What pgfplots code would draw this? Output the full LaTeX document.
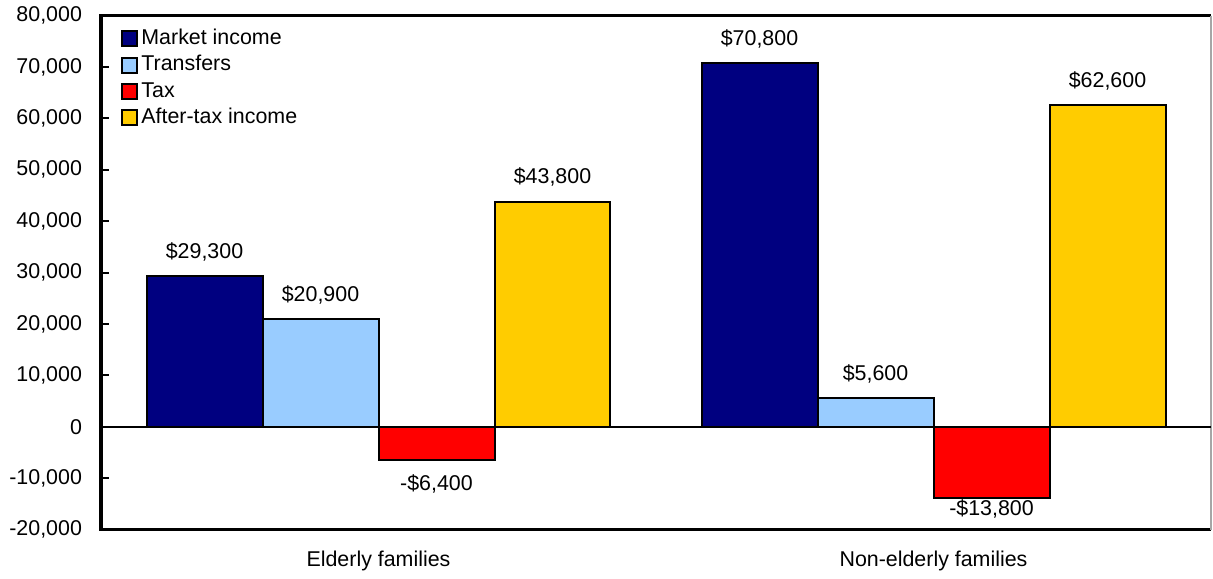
\documentclass[border=0pt]{standalone}
\usepackage{pgfplots}
\pgfplotsset{compat=1.18}
\usepackage{fontspec}
\setmainfont{Liberation Sans}
\definecolor{cMarket}{HTML}{000080}
\definecolor{cTrans}{HTML}{99CCFF}
\definecolor{cTax}{HTML}{FF0000}
\definecolor{cAfter}{HTML}{FFCC00}
\begin{document}
\begin{tikzpicture}
\newcommand{\fs}{\fontsize{10.7}{12.8}\selectfont}
\begin{axis}[
  scale only axis,
  width=555pt, height=257pt,
  xmin=-0.5, xmax=1.5,
  ymin=-20000, ymax=80000,
  ybar=0pt, bar width=0.209,
  axis line style={draw=none},
  xtick={0,1},
  xticklabels={Elderly families, Non-elderly families},
  x tick style={draw=none},
  extra x ticks={0.5},
  extra x tick labels={},
  extra x tick style={major tick length=4pt, tick style={draw=black, line width=1pt}},
  ytick={-20000,-10000,0,10000,20000,30000,40000,50000,60000,70000,80000},
  scaled y ticks=false,
  /pgf/number format/1000 sep={,},
  /pgf/number format/assume math mode=true,
  yticklabel style={xshift=-6pt},
  xticklabel style={yshift=-7pt},
  tick label style={font=\fs},
  y tick style={draw=black, line width=1pt},
  major tick length=4pt,
  tick align=inside,
  ytick pos=left,
  xtick pos=bottom,
  point meta=explicit symbolic,
  nodes near coords={\pgfplotspointmeta},
  every node near coord/.append style={font=\fs, inner ysep=7pt, text=black},
  legend style={at={(axis description cs:0,1)}, anchor=north west, xshift=7pt, yshift=-3pt,
    draw=none, fill=none, font=\fs, row sep=0.15pt,
    nodes={inner sep=1.5pt, text height=7.8pt, text depth=2.2pt}},
  legend cell align=left,
  legend image code/.code={\draw[#1, line width=1pt] (0pt,-3.75pt) rectangle (7.5pt,3.75pt);},
  every axis plot/.append style={draw=black, line width=1pt},
  clip=false,
  after end axis/.code={
    \draw[black, line width=1.5pt] (rel axis cs:1,0) -- (rel axis cs:0,0) -- (rel axis cs:0,1) -- (rel axis cs:1,1);
    \draw[gray!70, line width=0.6pt] (rel axis cs:1,0) -- (rel axis cs:1,1);
    \draw[black, line width=1pt] (axis cs:-0.5,0) -- (axis cs:1.5,0);
  },
]
\addplot[fill=cMarket] coordinates {(0,29300) [\$29,300] (1,70800) [\$70,800]};
\addplot[fill=cTrans] coordinates {(0,20900) [\$20,900] (1,5600) [\$5,600]};
\addplot[fill=cTax, visualization depends on={rawy \as \rawy},
  every node near coord/.append style={anchor=north, yshift={(\rawy<-10000)*6.5}}]
  coordinates {(0,-6400) [-\$6,400] (1,-13800) [-\$13,800]};
\addplot[fill=cAfter] coordinates {(0,43800) [\$43,800] (1,62600) [\$62,600]};
\legend{Market income, Transfers, Tax, After-tax income}
\end{axis}
\path (current axis.south west) ++(-50.5pt,-24.5pt);
\path (current axis.north east) ++(1pt,6.5pt);
\end{tikzpicture}
\end{document}
